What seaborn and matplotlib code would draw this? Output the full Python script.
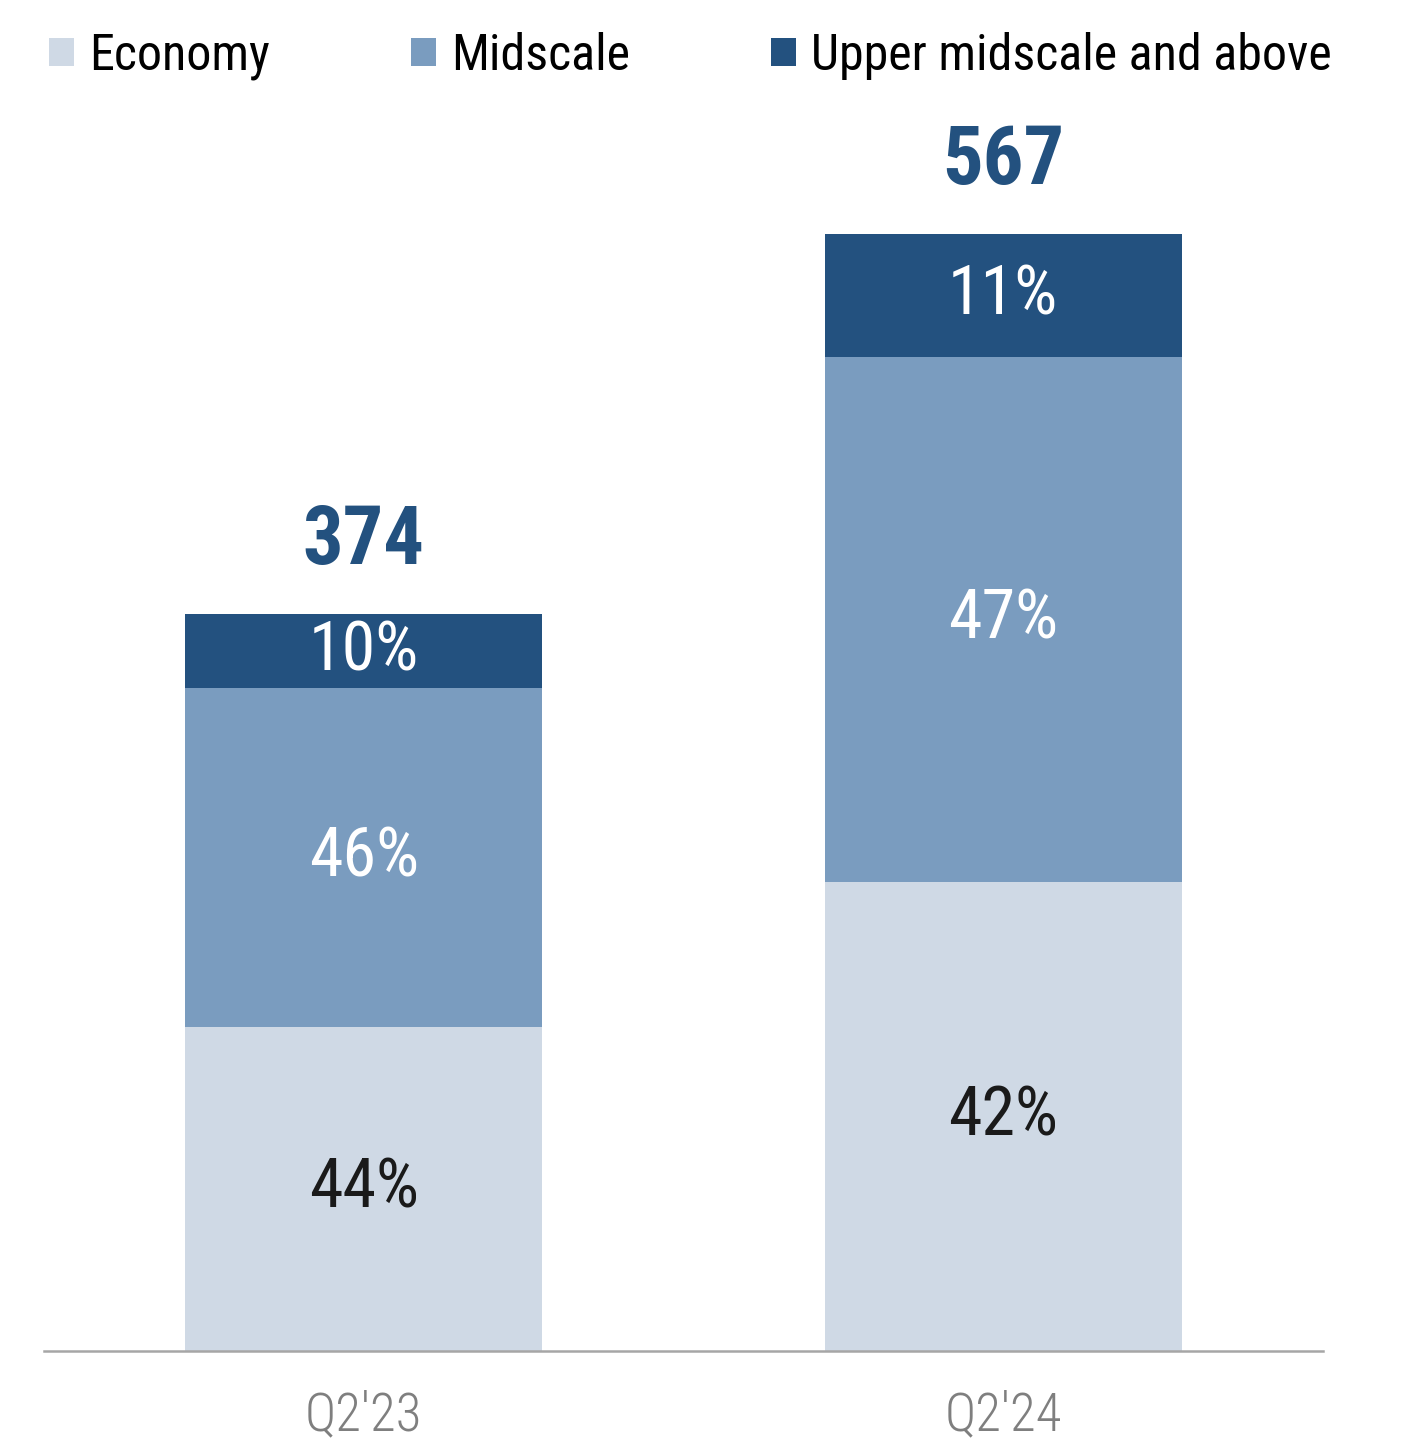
import matplotlib
matplotlib.use("Agg")
import matplotlib.pyplot as plt
import seaborn as sns
import pandas as pd
import numpy as np

# Hotel openings by chain scale
quarters = ["Q2'23", "Q2'24"]
totals = [374, 567]
segments = ["Economy", "Midscale", "Upper midscale and above"]
shares_economy = [44, 42]
shares_midscale = [46, 47]
shares_upper = [10, 11]

colors = ["#cfd9e5", "#7a9cbf", "#23517f"]
label_colors = ["#1a1a1a", "white", "white"]

sns.set_theme(style="white")
plt.rcParams["font.family"] = ["Roboto Condensed", "Liberation Sans Narrow", "Roboto", "DejaVu Sans"]

shares = [shares_economy, shares_midscale, shares_upper]
rows = []
for seg, vals in zip(segments, shares):
    for q, t, s in zip(quarters, totals, vals):
        rows.append({"quarter": q, "segment": seg, "share": s, "value": t * s / 100})
df = pd.DataFrame(rows)

fig = plt.figure(figsize=(14.08, 14.55), dpi=100)
ax = fig.add_axes([44 / 1408, 104 / 1455, 1279 / 1408, 1251 / 1455])

bottom = np.zeros(len(quarters))
for seg, col, lcol in zip(segments, colors, label_colors):
    sub = df[df["segment"] == seg].set_index("quarter").loc[quarters].reset_index()
    sns.barplot(data=sub, x="quarter", y="value", order=quarters, color=col,
                saturation=1, width=0.558, bottom=bottom, linewidth=0, ax=ax,
                label=seg, errorbar=None)
    cont = ax.containers[-1]
    ax.bar_label(cont, labels=[f"{s}%" for s in sub["share"]], label_type="center",
                 color=lcol, fontsize=49)
    bottom = bottom + sub["value"].to_numpy()

ax.bar_label(ax.containers[-1], labels=[str(t) for t in totals], padding=24,
             color="#23517f", fontsize=58, fontweight="bold")

ax.set_xlim(-0.5, 1.5)
ax.set_ylim(0, 635)
ax.set_xlabel("")
ax.set_ylabel("")
ax.set_yticks([])
ax.tick_params(axis="x", length=0, pad=28, labelsize=38, labelcolor="#7f7f7f")
for lbl in ax.get_xticklabels():
    lbl.set_fontweight("light")
for side in ["left", "right", "top"]:
    ax.spines[side].set_visible(False)
ax.spines["bottom"].set_color("#a6a6a6")
ax.spines["bottom"].set_linewidth(1.8)

handles, labels = ax.get_legend_handles_labels()
if ax.get_legend() is not None:
    ax.get_legend().remove()
fig.legend(handles, labels, loc="center", ncol=3, mode="expand",
           bbox_to_anchor=(49 / 1408, 1 - 56 / 1455 - 0.01, 1283 / 1408, 0.02),
           frameon=False, fontsize=36, handlelength=0.5, handleheight=0.5,
           handletextpad=0.3, borderpad=0, borderaxespad=0, labelcolor="black")

fig.savefig("out.png", dpi=100)
